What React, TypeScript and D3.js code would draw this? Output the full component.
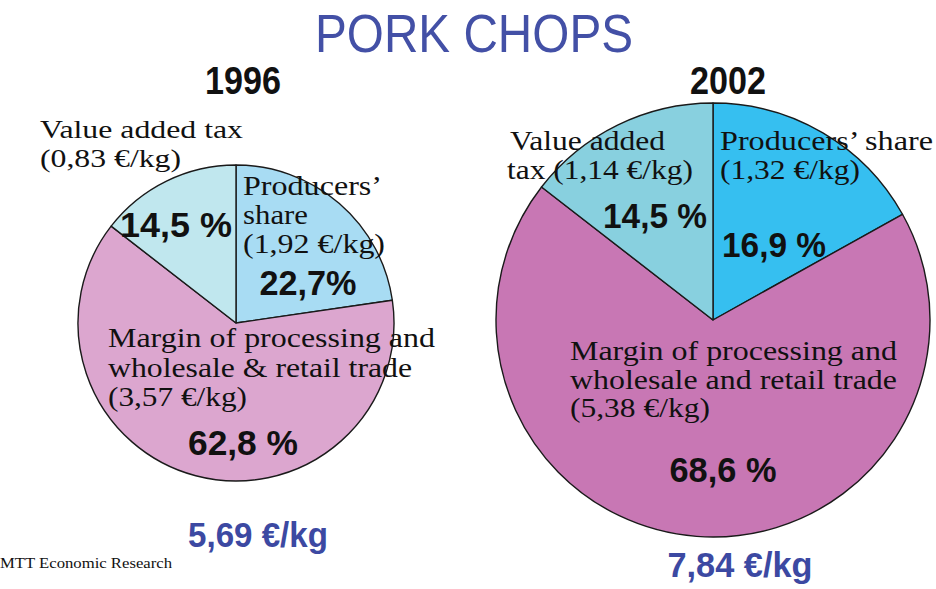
import { useEffect, useRef } from "react";
import * as d3 from "d3";

// slice order clockwise from 12 o'clock: producers, margin, VAT
const categories = ["Producers' share", "Margin", "Value added tax"];
const years = ["1996", "2002"];
const shares1996 = [22.7, 62.8, 14.5];
const shares2002 = [16.9, 68.6, 14.5];
const prices1996 = ["1,92", "3,57", "0,83"];
const prices2002 = ["1,32", "5,38", "1,14"];
const totals = ["5,69", "7,84"];

const colors1996 = ["#a8dcf3", "#dca6cf", "#c0e7ee"];
const colors2002 = ["#36bff0", "#c877b4", "#88d0df"];

const pct = (v: number) => v.toFixed(1).replace(".", ",");

const App = () => {
  const svgRef = useRef<SVGSVGElement>(null);

  useEffect(() => {
    const width = 936, height = 589;
    const svg = d3.select(svgRef.current);
    svg.selectAll("*").remove();
    svg.attr("width", width).attr("height", height);
    svg.append("rect").attr("width", width).attr("height", height).attr("fill", "#fff");

    const serif = "'Liberation Serif', 'Times New Roman', serif";
    const sans = "'Liberation Sans', Arial, sans-serif";

    const text = (x: number, y: number, s: string, size: number, opts: any = {}) => {
      const t = svg.append("text")
        .attr("x", x).attr("y", y)
        .attr("font-family", opts.family || serif)
        .attr("font-size", size)
        .attr("font-weight", opts.weight || "normal")
        .attr("fill", opts.fill || "#111")
        .attr("text-anchor", opts.anchor || "start")
        .text(s);
      if (opts.len) t.attr("textLength", opts.len).attr("lengthAdjust", "spacingAndGlyphs");
      return t;
    };

    // title and years
    text(474, 52, "PORK CHOPS", 53, { family: sans, fill: "#4350a6", anchor: "middle", len: 318 });
    text(243, 94, years[0], 38, { family: sans, weight: "bold", anchor: "middle", len: 76 });
    text(728, 94, years[1], 38, { family: sans, weight: "bold", anchor: "middle", len: 76 });

    const pie = d3.pie<number>().sort(null).value(d => d);

    const drawPie = (cx: number, cy: number, r: number, values: number[], cols: string[]) => {
      const arc = d3.arc<d3.PieArcDatum<number>>().innerRadius(0).outerRadius(r);
      const g = svg.append("g").attr("transform", `translate(${cx},${cy})`);
      g.selectAll("path")
        .data(pie(values))
        .enter()
        .append("path")
        .attr("d", arc)
        .attr("fill", (d, i) => cols[i])
        .attr("stroke", "#1a1a1a")
        .attr("stroke-width", 1.4)
        .attr("stroke-linejoin", "round");
    };

    drawPie(236, 323, 158, shares1996, colors1996);
    drawPie(713, 320, 217, shares2002, colors2002);

    // 1996 labels
    text(40, 138, "Value added tax", 26, { len: 203 });
    text(40, 167, `(${prices1996[2]} €/kg)`, 26, { len: 141 });
    text(243, 195, "Producers’", 27, { len: 139 });
    text(243, 224, "share", 27, { len: 65 });
    text(243, 253, `(${prices1996[0]} €/kg)`, 27, { len: 142 });
    text(176, 237, `${pct(shares1996[2])} %`, 35, { family: sans, weight: "bold", anchor: "middle", len: 112 });
    text(308, 295, `${pct(shares1996[0])}%`, 35, { family: sans, weight: "bold", anchor: "middle", len: 97 });
    text(108, 347, "Margin of processing and", 28, { len: 327 });
    text(108, 377, "wholesale & retail trade", 28, { len: 304 });
    text(108, 406, `(${prices1996[1]} €/kg)`, 28, { len: 139 });
    text(243, 455, `${pct(shares1996[1])} %`, 35, { family: sans, weight: "bold", anchor: "middle", len: 110 });
    text(258, 547, `${totals[0]} €/kg`, 35, { family: sans, weight: "bold", fill: "#3c49a2", anchor: "middle", len: 140 });
    text(0, 568, "MTT Economic Research", 14, { len: 172 });

    // 2002 labels
    text(510, 150, "Value added", 27, { len: 155 });
    text(507, 179, `tax (${prices2002[2]} €/kg)`, 27, { len: 186 });
    text(720, 150, "Producers’ share", 27, { len: 213 });
    text(720, 179, `(${prices2002[0]} €/kg)`, 27, { len: 140 });
    text(655, 228, `${pct(shares2002[2])} %`, 35, { family: sans, weight: "bold", anchor: "middle", len: 104 });
    text(774, 257, `${pct(shares2002[0])} %`, 35, { family: sans, weight: "bold", anchor: "middle", len: 104 });
    text(570, 360, "Margin of processing and", 28, { len: 327 });
    text(570, 389, "wholesale and retail trade", 28, { len: 327 });
    text(570, 417, `(${prices2002[1]} €/kg)`, 28, { len: 140 });
    text(723, 482, `${pct(shares2002[1])} %`, 35, { family: sans, weight: "bold", anchor: "middle", len: 107 });
    text(740, 577, `${totals[1]} €/kg`, 35, { family: sans, weight: "bold", fill: "#3c49a2", anchor: "middle", len: 145 });
  }, []);

  return (
    <svg
      ref={svgRef}
      aria-label={categories.join(", ")}
      style={{ position: "absolute", left: 0, top: 0, display: "block" }}
    />
  );
};

export default App;
